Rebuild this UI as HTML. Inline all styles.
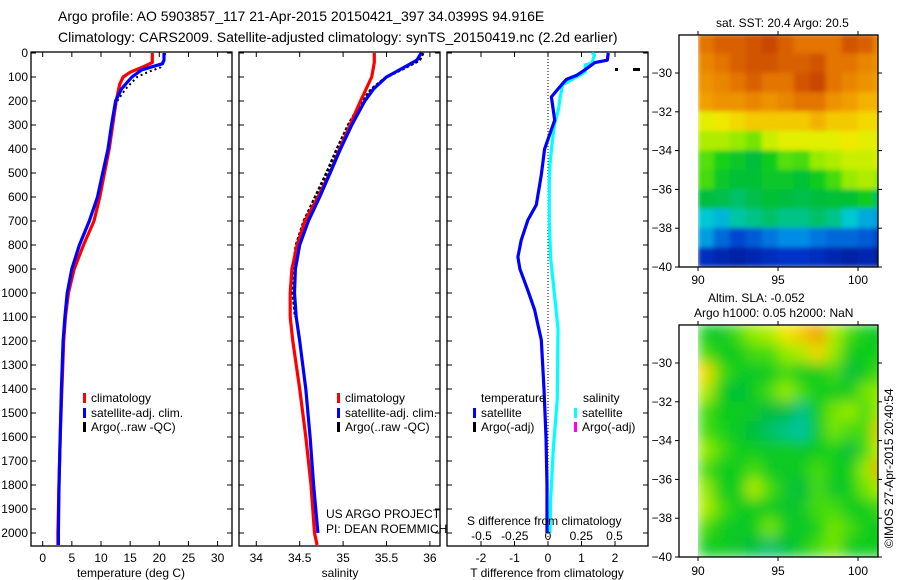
<!DOCTYPE html>
<html><head><meta charset="utf-8"><style>
body{margin:0;background:#fff}
svg{display:block;font-family:"Liberation Sans",sans-serif}
</style></head><body>
<svg id="c" width="900" height="580" viewBox="0 0 900 580" xmlns="http://www.w3.org/2000/svg">
<defs>
<clipPath id="clipTop"><rect x="679" y="35" width="199" height="232"/></clipPath>
<clipPath id="clipBot"><rect x="679" y="325" width="199" height="232"/></clipPath>
<filter id="blur" x="-5%" y="-5%" width="110%" height="110%"><feGaussianBlur stdDeviation="7"/></filter>
<filter id="blurS" x="-5%" y="-5%" width="110%" height="110%"><feGaussianBlur stdDeviation="2.5"/></filter>
</defs>
<g id="titles" font-size="14" fill="#000">
<text x="58" y="21">Argo profile: AO 5903857_117 21-Apr-2015 20150421_397 34.0399S 94.916E</text>
<text x="58" y="42">Climatology: CARS2009. Satellite-adjusted climatology: synTS_20150419.nc (2.2d earlier)</text>
</g>
<g id="g1"></g><g id="g2"></g><g id="g3"></g><g id="g4"></g><g id="g5"></g>
<text x="716" y="27" font-size="12">sat. SST: 20.4 Argo: 20.5</text>
<text x="708" y="302" font-size="12">Altim. SLA: -0.052</text>
<text x="694" y="317" font-size="12">Argo h1000: 0.05 h2000: NaN</text>
<text transform="translate(893,548) rotate(-90)" font-size="12">©IMOS 27-Apr-2015 20:40:54</text>
</svg>
<script>
// ---------- data ----------
const depthTicks=[0,100,200,300,400,500,600,700,800,900,1000,1100,1200,1300,1400,1500,1600,1700,1800,1900,2000];
const tempTicks=[0,5,10,15,20,25,30];
const salTicks=[34,34.5,35,35.5,36];
const salTickLabels=["34","34.5","35","35.5","36"];
const tdiffTicks=[-2,-1,0,1,2];
const sdiffTicks=[-0.5,-0.25,0,0.25,0.5];
const sdiffTickLabels=["-0.5","-0.25","0","0.25","0.5"];

const tClimDepth=[0,40,60,80,100,130,200,300,400,500,600,700,800,900,1000,1100,1200,1400,1600,1800,2000,2050];
const tClim=[18.8,18.8,17.0,15.0,13.8,13.2,12.6,12.0,11.4,10.6,9.8,8.8,7.0,5.4,4.4,3.9,3.6,3.3,3.0,2.8,2.6,2.6];
const tSatDepth=[0,30,45,70,100,150,200,300,400,500,600,700,800,900,1000,1100,1200,1400,1600,1800,2000,2050];
const tSat=[20.8,20.8,20.5,17.0,15.3,13.5,12.5,11.8,11.2,10.3,9.4,8.0,6.3,5.0,4.2,3.8,3.5,3.2,3.0,2.8,2.7,2.7];
const tArgoDepth=[0,40,60,80,100,150,200,250,300];
const tArgo=[21.0,20.8,20.2,18.0,16.2,14.2,12.8,12.2,11.8];

const sClimDepth=[0,40,100,200,300,400,500,600,700,800,900,1000,1100,1200,1400,1600,1800,2000,2050];
const sClim=[35.36,35.36,35.33,35.2,35.08,34.96,34.85,34.71,34.56,34.47,34.41,34.39,34.39,34.42,34.5,34.57,34.63,34.67,34.7];
const sSatDepth=[0,30,60,100,150,200,300,400,500,600,700,800,900,1000,1100,1200,1400,1600,1800,2000];
const sSat=[35.9,35.85,35.7,35.5,35.35,35.25,35.1,34.97,34.85,34.73,34.6,34.5,34.45,34.44,34.46,34.5,34.57,34.62,34.66,34.71];
const sArgoDepth=[0,30,60,100,150,200,300,400,500,600,700,800,900,1000,1100];
const sArgo=[35.92,35.88,35.72,35.5,35.33,35.22,35.06,34.93,34.81,34.68,34.55,34.46,34.42,34.42,34.45];

const dDepth=[0,30,40,70,92,110,125,183,280,400,508,633,696,780,850,900,990,1070,1195,1400,1600,1800,2000];
const dTemp=[1.8,1.77,1.4,1.1,0.87,0.55,0.45,0.1,0.2,-0.1,-0.2,-0.35,-0.6,-0.8,-0.9,-0.84,-0.6,-0.4,-0.2,-0.12,-0.06,-0.03,-0.03];
const sdDepth=[0,8,42,50,79,104,133,188,233,296,379,463,533,646,708,858,1067,1150,1442,1650,1858,2000];
const sdSal=[0.33,0.35,0.33,0.28,0.28,0.2,0.11,0.09,0.08,0.05,0.03,0.015,0.01,0.01,0.01,0.02,0.06,0.075,0.07,0.04,0.02,0.015];

const mapLons=[90,91,92,93,94,95,96,97,98,99,100,101];
const mapLats=[-28,-29,-30,-31,-32,-33,-34,-35,-36,-37,-38,-39];
const sstGrid=[
[0.85,0.88,0.88,0.9,0.92,0.88,0.85,0.85,0.85,0.9,0.88,0.82],
[0.82,0.85,0.88,0.9,0.9,0.88,0.88,0.9,0.85,0.85,0.82,0.8],
[0.8,0.82,0.85,0.88,0.85,0.85,0.9,0.92,0.85,0.82,0.8,0.78],
[0.78,0.8,0.8,0.82,0.8,0.82,0.85,0.85,0.8,0.78,0.75,0.75],
[0.66,0.68,0.7,0.72,0.72,0.72,0.72,0.75,0.72,0.72,0.7,0.7],
[0.62,0.62,0.6,0.58,0.64,0.66,0.66,0.66,0.66,0.68,0.66,0.66],
[0.56,0.52,0.48,0.45,0.5,0.56,0.55,0.6,0.62,0.64,0.64,0.65],
[0.55,0.48,0.46,0.46,0.48,0.48,0.46,0.5,0.55,0.6,0.62,0.6],
[0.45,0.44,0.42,0.44,0.46,0.45,0.44,0.45,0.46,0.46,0.5,0.42],
[0.35,0.32,0.38,0.4,0.42,0.4,0.4,0.42,0.4,0.35,0.3,0.28],
[0.28,0.2,0.15,0.18,0.22,0.25,0.25,0.22,0.2,0.2,0.18,0.15],
[0.1,0.08,0.06,0.08,0.1,0.12,0.12,0.1,0.08,0.06,0.08,0.05]];
const slaGrid=[
[0.5,0.48,0.55,0.6,0.62,0.68,0.72,0.78,0.62,0.55,0.5,0.48],
[0.55,0.5,0.5,0.55,0.55,0.6,0.62,0.7,0.6,0.5,0.5,0.52],
[0.7,0.55,0.5,0.48,0.5,0.55,0.5,0.5,0.55,0.45,0.5,0.55],
[0.62,0.5,0.45,0.5,0.55,0.6,0.55,0.5,0.5,0.5,0.58,0.6],
[0.55,0.5,0.5,0.48,0.45,0.45,0.4,0.5,0.58,0.6,0.55,0.62],
[0.55,0.52,0.48,0.45,0.42,0.4,0.38,0.48,0.58,0.55,0.55,0.72],
[0.6,0.55,0.5,0.5,0.48,0.5,0.48,0.5,0.52,0.45,0.55,0.65],
[0.55,0.5,0.5,0.55,0.5,0.48,0.5,0.55,0.5,0.5,0.6,0.78],
[0.6,0.5,0.5,0.62,0.55,0.48,0.45,0.55,0.48,0.5,0.58,0.62],
[0.62,0.55,0.5,0.5,0.5,0.48,0.48,0.55,0.55,0.5,0.5,0.55],
[0.55,0.5,0.48,0.5,0.58,0.5,0.48,0.52,0.58,0.55,0.5,0.5],
[0.5,0.5,0.48,0.45,0.42,0.45,0.5,0.55,0.58,0.5,0.5,0.5]];
const mapLatTicks=[-30,-32,-34,-36,-38,-40];
const mapLonTicks=[90,95,100];

// ---------- helpers ----------
const NS="http://www.w3.org/2000/svg";
function mk(tag,attrs,parent){const e=document.createElementNS(NS,tag);for(const k in attrs)e.setAttribute(k,attrs[k]);parent.appendChild(e);return e;}
const TOP=53,BOT=546;
const yD=d=>TOP+d*0.24;
const xT=t=>42.7+t*5.83;
const xS=s=>256.3+(s-34)*86.8;
const xTd=t=>548+t*33.5;
const xSd=s=>548+s*133;

function frame(g,x0,x1,y0,y1,name){
  const r=mk('rect',{x:x0,y:y0,width:x1-x0,height:y1-y0,fill:'none',stroke:'#000','stroke-width':1.3},g);
  
  
}
function depthAxisTicks(g,x0,x1){
  depthTicks.forEach(d=>{const y=yD(d);
    mk('line',{x1:x0,x2:x0+5,y1:y,y2:y,stroke:'#000'},g);
    mk('line',{x1:x1,x2:x1-5,y1:y,y2:y,stroke:'#000'},g);});
}
function xTicks(g,vals,labels,fx,name){
  vals.forEach((v,i)=>{const x=fx(v);
    mk('line',{x1:x,x2:x,y1:BOT,y2:BOT-5,stroke:'#000'},g);
    mk('line',{x1:x,x2:x,y1:TOP-1,y2:TOP+4,stroke:'#000'},g);
    const t=mk('text',{x:x,y:562,'text-anchor':'middle','font-size':12},g);t.textContent=labels[i];
    
    });
}
function line(g,ds,vs,fx,color,name,w,dash){
  const pts=ds.map((d,i)=>fx(vs[i]).toFixed(1)+','+yD(d).toFixed(1)).join(' ');
  const p=mk('polyline',{points:pts,fill:'none',stroke:color,'stroke-width':w||3.2,'stroke-linejoin':'round'},g);
  if(dash)p.setAttribute('stroke-dasharray',dash);
  
  
}
function legend(g,x,y,color,label,name){
  mk('rect',{x:x,y:y-5,width:3,height:10,fill:color},g);
  const t=mk('text',{x:x+8,y:y+4,'font-size':12},g);t.textContent=label;
  
  
}
function colorOf(v){
  const stops=[[0,[0,20,130]],[0.12,[0,50,200]],[0.25,[0,140,230]],[0.35,[0,200,210]],[0.45,[0,190,60]],[0.52,[20,210,20]],[0.6,[150,235,0]],[0.67,[240,240,0]],[0.76,[245,170,0]],[0.86,[225,110,0]],[1,[170,20,0]]];
  for(let i=1;i<stops.length;i++){if(v<=stops[i][0]){const a=stops[i-1],b=stops[i],f=(v-a[0])/(b[0]-a[0]);
    return 'rgb('+a[1].map((c,k)=>Math.round(c+(b[1][k]-c)*f)).join(',')+')';}}
  return 'rgb(170,20,0)';
}

// ---------- panel 1: temperature ----------
const g1=document.getElementById('g1');


frame(g1,31,232,TOP-1,BOT,'temperature-axes');
depthAxisTicks(g1,31,232);
depthTicks.forEach(d=>{const t=mk('text',{x:28,y:yD(d)+4,'text-anchor':'end','font-size':12},g1);t.textContent=d;
  
  });
xTicks(g1,tempTicks,tempTicks.map(String),xT,'temperature-tick-label');
line(g1,tArgoDepth,tArgo,xT,'#000','temp-argo-line',2,'2,3');
line(g1,tClimDepth,tClim,xT,'#f00','temp-climatology-line');
line(g1,tSatDepth,tSat,xT,'#00f','temp-satellite-line');
legend(g1,83,398,'#f00','climatology','legend-climatology');
legend(g1,83,413,'#00f','satellite-adj. clim.','legend-satellite');
legend(g1,83,427,'#000','Argo(..raw -QC)','legend-argo');
let t=mk('text',{x:131,y:577,'text-anchor':'middle','font-size':12},g1);t.textContent='temperature (deg C)';



// ---------- panel 2: salinity ----------
const g2=document.getElementById('g2');


frame(g2,239,440,TOP-1,BOT,'salinity-axes');
depthAxisTicks(g2,239,440);
xTicks(g2,salTicks,salTickLabels,xS,'salinity-tick-label');
line(g2,sArgoDepth,sArgo,xS,'#000','sal-argo-line',3,'3,2');
line(g2,sClimDepth,sClim,xS,'#f00','sal-climatology-line');
line(g2,sSatDepth,sSat,xS,'#00f','sal-satellite-line');
legend(g2,337,398,'#f00','climatology','legend-climatology-2');
legend(g2,337,413,'#00f','satellite-adj. clim.','legend-satellite-2');
legend(g2,337,427,'#000','Argo(..raw -QC)','legend-argo-2');
t=mk('text',{x:326,y:518,'font-size':12},g2);t.textContent='US ARGO PROJECT';


t=mk('text',{x:326,y:533,'font-size':12},g2);t.textContent='PI: DEAN ROEMMICH';


t=mk('text',{x:340,y:577,'text-anchor':'middle','font-size':12},g2);t.textContent='salinity';



// ---------- panel 3: differences ----------
const g3=document.getElementById('g3');


frame(g3,447,648,TOP-1,BOT,'difference-axes');
depthAxisTicks(g3,447,648);
xTicks(g3,tdiffTicks,tdiffTicks.map(String),xTd,'tdiff-tick-label');
mk('line',{x1:548,x2:548,y1:TOP,y2:BOT,stroke:'#000','stroke-dasharray':'1,2'},g3);
line(g3,sdDepth,sdSal,xSd,'#0ff','sal-diff-satellite-line');
line(g3,dDepth,dTemp,xTd,'#00f','temp-diff-satellite-line');
mk('rect',{x:615,y:68,width:3,height:3,fill:'#000'},g3);
mk('rect',{x:633,y:68,width:7,height:3,fill:'#000'},g3);
t=mk('text',{x:481,y:402,'font-size':12},g3);t.textContent='temperature';


t=mk('text',{x:583,y:402,'font-size':12},g3);t.textContent='salinity';


legend(g3,473,413,'#00f','satellite','legend-temp-satellite');
legend(g3,473,427,'#000','Argo(-adj)','legend-temp-argo');
legend(g3,574,413,'#0ff','satellite','legend-sal-satellite');
legend(g3,574,427,'#f0f','Argo(-adj)','legend-sal-argo');
t=mk('text',{x:467,y:525,'font-size':12},g3);t.textContent='S difference from climatology';


sdiffTicks.forEach((v,i)=>{const tt=mk('text',{x:xSd(v),y:540,'text-anchor':'middle','font-size':12},g3);tt.textContent=sdiffTickLabels[i];
  
  });
t=mk('text',{x:547,y:577,'text-anchor':'middle','font-size':12},g3);t.textContent='T difference from climatology';



// ---------- maps ----------
function drawMap(g,grid,yTopLat30,clip,filt,name,labY){
  
  
  const xL=lon=>698+(lon-90)*16;
  const yL=lat=>yTopLat30+(-30-lat)*19.4;
  const cg=mk('g',{'clip-path':'url(#'+clip+')'},g);
  const inner=mk('g',{filter:'url(#'+filt+')'},cg);
  grid.forEach((row,r)=>row.forEach((v,c)=>{
    const x0=xL(mapLons[c]),y0=yL(mapLats[r]);
    const rc=mk('rect',{x:x0-0.3,y:y0-0.3,width:16.6,height:20,fill:colorOf(v)},inner);
    
    
  }));
  mk('rect',{x:679,y:yL(-27.9),width:19,height:yL(-40)-yL(-27.9)+1,fill:'#fff'},cg);
  const top=yL(-28.04),bot=yL(-40);
  frame(g,679,878,top,bot,name+'-frame');
  mapLatTicks.forEach(lat=>{const y=yL(lat);
    mk('line',{x1:679,x2:675,y1:y,y2:y,stroke:'#000'},g);
    mk('line',{x1:878,x2:882,y1:y,y2:y,stroke:'#000'},g);
    const tt=mk('text',{x:672,y:y+4,'text-anchor':'end','font-size':12},g);tt.textContent=String(lat).replace('-','\u2212');
    
    });
  mapLonTicks.forEach(lon=>{const x=xL(lon);
    mk('line',{x1:x,x2:x,y1:bot,y2:bot+4,stroke:'#000'},g);
    mk('line',{x1:x,x2:x,y1:top,y2:top-4,stroke:'#000'},g);
    const tt=mk('text',{x:x,y:labY,'text-anchor':'middle','font-size':12},g);tt.textContent=lon;
    
    });
}
drawMap(document.getElementById('g4'),sstGrid,73,'clipTop','blurS','sst-map',284);
drawMap(document.getElementById('g5'),slaGrid,363,'clipBot','blur','sla-map',575);
</script>
</body></html>
